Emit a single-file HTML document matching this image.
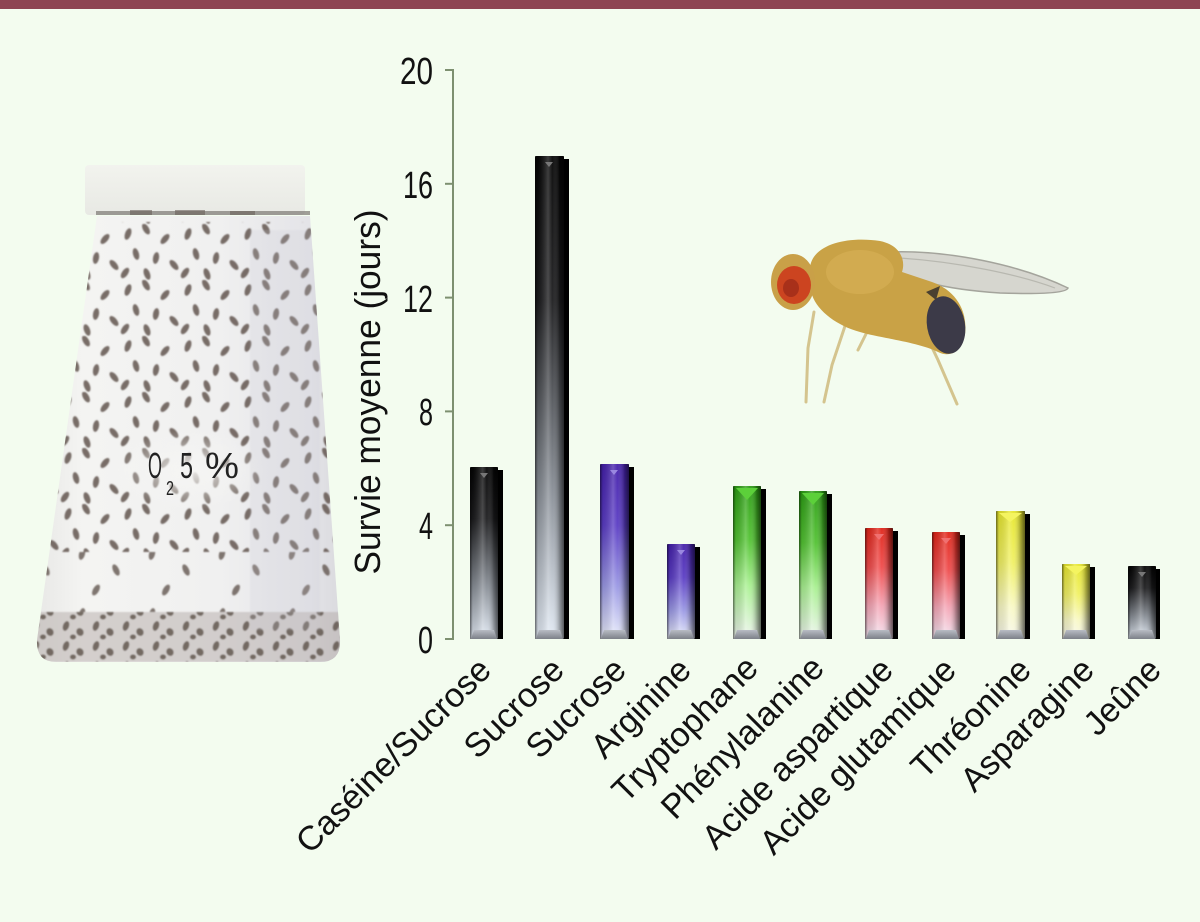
<!DOCTYPE html>
<html><head><meta charset="utf-8">
<style>
html,body{margin:0;padding:0;background:#f3fcef;}
svg{display:block;}
</style></head>
<body>
<svg width="1200" height="922" viewBox="0 0 1200 922" xmlns="http://www.w3.org/2000/svg">
<defs>
  <linearGradient id="gBlack" x1="0" y1="0" x2="0" y2="1">
    <stop offset="0" stop-color="#050505"/>
    <stop offset="0.3" stop-color="#1c1c1e"/>
    <stop offset="0.7" stop-color="#8a9098"/>
    <stop offset="1" stop-color="#e2eaf4"/>
  </linearGradient>
  <linearGradient id="gBlue" x1="0" y1="0" x2="0" y2="1">
    <stop offset="0" stop-color="#4420aa"/>
    <stop offset="0.35" stop-color="#5a3cc4"/>
    <stop offset="0.7" stop-color="#9a98e4"/>
    <stop offset="1" stop-color="#e8ecfa"/>
  </linearGradient>
  <linearGradient id="gGreen" x1="0" y1="0" x2="0" y2="1">
    <stop offset="0" stop-color="#2c9c14"/>
    <stop offset="0.35" stop-color="#52c232"/>
    <stop offset="0.65" stop-color="#a8f090"/>
    <stop offset="1" stop-color="#eef4ee"/>
  </linearGradient>
  <linearGradient id="gRed" x1="0" y1="0" x2="0" y2="1">
    <stop offset="0" stop-color="#e02418"/>
    <stop offset="0.35" stop-color="#ef4a4a"/>
    <stop offset="0.7" stop-color="#f4a4b4"/>
    <stop offset="1" stop-color="#f2e4f0"/>
  </linearGradient>
  <linearGradient id="gYellow" x1="0" y1="0" x2="0" y2="1">
    <stop offset="0" stop-color="#e6e62c"/>
    <stop offset="0.4" stop-color="#f0f062"/>
    <stop offset="0.75" stop-color="#f8f8c4"/>
    <stop offset="1" stop-color="#f6f6ea"/>
  </linearGradient>
  <linearGradient id="hShade" x1="0" y1="0" x2="1" y2="0">
    <stop offset="0" stop-color="#000" stop-opacity="0.55"/>
    <stop offset="0.1" stop-color="#000" stop-opacity="0.1"/>
    <stop offset="0.45" stop-color="#fff" stop-opacity="0.22"/>
    <stop offset="0.6" stop-color="#fff" stop-opacity="0.05"/>
    <stop offset="0.85" stop-color="#000" stop-opacity="0.3"/>
    <stop offset="1" stop-color="#000" stop-opacity="0.6"/>
  </linearGradient>
  <linearGradient id="bevel" x1="0" y1="0" x2="0" y2="1">
    <stop offset="0" stop-color="#b8bcc4"/>
    <stop offset="1" stop-color="#7c8088"/>
  </linearGradient>
  <linearGradient id="vialShade" x1="0" y1="0" x2="1" y2="0">
    <stop offset="0" stop-color="#e8e8e6"/>
    <stop offset="0.15" stop-color="#f4f4f2"/>
    <stop offset="0.6" stop-color="#f0f0f0"/>
    <stop offset="0.9" stop-color="#e4e4e8"/>
    <stop offset="1" stop-color="#dadade"/>
  </linearGradient>
  <linearGradient id="capShade" x1="0" y1="0" x2="0" y2="1">
    <stop offset="0" stop-color="#f2f3ee"/>
    <stop offset="1" stop-color="#e8e9e4"/>
  </linearGradient>
  <radialGradient id="whiteSpot" cx="0.5" cy="0.5" r="0.5">
    <stop offset="0" stop-color="#f6f6f4" stop-opacity="0.9"/>
    <stop offset="1" stop-color="#f6f6f4" stop-opacity="0"/>
  </radialGradient>
  <pattern id="flies" width="60" height="56" patternUnits="userSpaceOnUse">
    <g fill="#62564f" opacity="0.85">
      <ellipse cx="8" cy="10" rx="3" ry="6" transform="rotate(20 8 10)"/>
      <ellipse cx="26" cy="5" rx="3" ry="6" transform="rotate(-30 26 5)"/>
      <ellipse cx="45" cy="15" rx="3" ry="6" transform="rotate(40 45 15)"/>
      <ellipse cx="16" cy="30" rx="3" ry="6" transform="rotate(-15 16 30)"/>
      <ellipse cx="36" cy="34" rx="3" ry="6" transform="rotate(10 36 34)"/>
      <ellipse cx="54" cy="41" rx="3" ry="6" transform="rotate(-40 54 41)"/>
      <ellipse cx="5" cy="49" rx="3" ry="6" transform="rotate(35 5 49)"/>
      <ellipse cx="27" cy="50" rx="3" ry="6" transform="rotate(-20 27 50)"/>
    </g>
  </pattern>
  <pattern id="fliesSparse" width="70" height="60" patternUnits="userSpaceOnUse">
    <g fill="#62564f" opacity="0.8">
      <ellipse cx="12" cy="14" rx="3" ry="6" transform="rotate(15 12 14)"/>
      <ellipse cx="46" cy="30" rx="3" ry="6" transform="rotate(-25 46 30)"/>
      <ellipse cx="26" cy="50" rx="3" ry="6" transform="rotate(30 26 50)"/>
    </g>
  </pattern>
  <pattern id="fliesDense" width="30" height="20" patternUnits="userSpaceOnUse">
    <g fill="#54483f" opacity="0.75">
      <ellipse cx="6" cy="6" rx="3" ry="5" transform="rotate(20 6 6)"/>
      <ellipse cx="20" cy="12" rx="3.5" ry="4" transform="rotate(-30 20 12)"/>
      <ellipse cx="13" cy="17" rx="3" ry="2.5"/>
    </g>
  </pattern>
  <clipPath id="vialClip">
    <path d="M97 216 L310 216 L340 640 Q341 662 320 662 L56 662 Q36 662 37 640 Z"/>
  </clipPath>
  <filter id="soft" x="-5%" y="-5%" width="110%" height="110%">
    <feGaussianBlur stdDeviation="0.8"/>
  </filter>
</defs>

<!-- background -->
<rect x="0" y="0" width="1200" height="922" fill="#f3fcef"/>
<rect x="0" y="0" width="1200" height="9" fill="#8e4452"/>

<!-- vial photo -->
<g>
  <rect x="85" y="165" width="220" height="50" rx="4" fill="url(#capShade)"/>
  <path d="M97 216 L310 216 L340 640 Q341 662 320 662 L56 662 Q36 662 37 640 Z" fill="url(#vialShade)"/>
  <g clip-path="url(#vialClip)" filter="url(#soft)">
    <rect x="30" y="222" width="320" height="330" fill="url(#flies)"/>
    <rect x="30" y="552" width="320" height="60" fill="url(#fliesSparse)"/>
    <ellipse cx="190" cy="470" rx="75" ry="40" fill="url(#whiteSpot)"/>
    <rect x="30" y="612" width="320" height="50" fill="#b4aca8" opacity="0.5"/>
    <rect x="30" y="612" width="320" height="50" fill="url(#fliesDense)"/>
    <rect x="250" y="230" width="70" height="400" fill="#c8c8d0" opacity="0.2"/>
  </g>
  <rect x="96" y="211" width="214" height="4" fill="#7c7874" opacity="0.7"/>
  <g fill="#6a605a" opacity="0.6">
    <rect x="130" y="210" width="22" height="5"/>
    <rect x="175" y="210" width="30" height="5"/>
    <rect x="230" y="211" width="25" height="4"/>
  </g>
  <g font-family="'Liberation Sans', sans-serif" fill="#222">
    <text x="148" y="478" font-size="36" textLength="14" lengthAdjust="spacingAndGlyphs">O</text>
    <text x="166" y="495" font-size="20" textLength="8" lengthAdjust="spacingAndGlyphs">2</text>
    <text x="180" y="478" font-size="36" textLength="13" lengthAdjust="spacingAndGlyphs">5</text>
    <text x="205" y="478" font-size="36" textLength="34" lengthAdjust="spacingAndGlyphs">%</text>
  </g>
</g>

<!-- fly -->
<g>
  <path d="M890 252 C950 250 1020 265 1068 288 C1066 294 1030 294 1000 293 C970 291 945 287 930 283 C905 277 890 270 884 262 Z" fill="#d6d6cf" stroke="#a4a49c" stroke-width="1.5"/>
  <path d="M900 258 C960 262 1020 275 1055 288" stroke="#b8b8b0" stroke-width="1.2" fill="none"/>
  <g stroke="#d4c48e" stroke-width="3" fill="none" stroke-linecap="round">
    <path d="M814 312 L808 348 L806 402"/>
    <path d="M845 326 L832 365 L824 402"/>
    <path d="M868 330 L858 350"/>
    <path d="M918 318 L938 360 L957 404"/>
  </g>
  <path d="M810 268 C812 244 848 236 880 241 C900 245 906 260 902 272 L932 282 C955 290 968 310 965 334 C962 352 950 358 938 352 C918 342 880 338 860 332 C838 326 818 312 812 295 Z" fill="#c9a246"/>
  <ellipse cx="860" cy="272" rx="34" ry="22" fill="#d4ae52" opacity="0.8"/>
  <ellipse cx="946" cy="325" rx="19" ry="29" transform="rotate(-10 946 325)" fill="#3c3a48"/>
  <path d="M926 292 L940 286 L936 300 Z" fill="#4a4030"/>
  <ellipse cx="793" cy="282" rx="22" ry="28" fill="#c9a048"/>
  <ellipse cx="794" cy="285" rx="17" ry="19" fill="#cc4420"/>
  <ellipse cx="791" cy="288" rx="8" ry="9" fill="#a8301a"/>
</g>

<!-- axis -->
<g stroke="#7d9070" stroke-width="2" fill="none">
  <line x1="453" y1="69" x2="453" y2="640"/>
  <line x1="445" y1="70" x2="453" y2="70"/>
  <line x1="445" y1="183.8" x2="453" y2="183.8"/>
  <line x1="445" y1="297.6" x2="453" y2="297.6"/>
  <line x1="445" y1="411.4" x2="453" y2="411.4"/>
  <line x1="445" y1="525.2" x2="453" y2="525.2"/>
  <line x1="445" y1="639" x2="453" y2="639"/>
</g>
<g font-family="'Liberation Sans', sans-serif" font-size="38" fill="#111" text-anchor="end">
  <text x="433" y="84" textLength="33" lengthAdjust="spacingAndGlyphs">20</text>
  <text x="433" y="198" textLength="30" lengthAdjust="spacingAndGlyphs">16</text>
  <text x="433" y="312" textLength="30" lengthAdjust="spacingAndGlyphs">12</text>
  <text x="433" y="425" textLength="14" lengthAdjust="spacingAndGlyphs">8</text>
  <text x="433" y="539" textLength="14" lengthAdjust="spacingAndGlyphs">4</text>
  <text x="433" y="653" textLength="15" lengthAdjust="spacingAndGlyphs">0</text>
</g>
<text transform="translate(380 392) rotate(-90)" font-family="'Liberation Sans', sans-serif" font-size="36" fill="#111" text-anchor="middle" textLength="365" lengthAdjust="spacingAndGlyphs">Survie moyenne (jours)</text>

<!-- bars -->
<g>
  <g>
    <rect x="474" y="470" width="29" height="169" fill="#000"/>
    <rect x="470" y="467" width="28" height="172" rx="1.5" fill="url(#gBlack)"/>
    <rect x="470" y="467" width="28" height="172" fill="url(#hShade)"/>
    <polygon points="471,639 497,639 494,630 474,630" fill="url(#bevel)"/>
    <polygon points="480,473 488,473 484,478" fill="#777"/>
  </g>
  <g>
    <rect x="539" y="159" width="30" height="480" fill="#000"/>
    <rect x="535" y="156" width="29" height="483" rx="1.5" fill="url(#gBlack)"/>
    <rect x="535" y="156" width="29" height="483" fill="url(#hShade)"/>
    <polygon points="536,639 563,639 560,630 539,630" fill="url(#bevel)"/>
    <polygon points="545,162 553,162 549,167" fill="#777"/>
  </g>
  <g>
    <rect x="604" y="467" width="30" height="172" fill="#000"/>
    <rect x="600" y="464" width="29" height="175" rx="1.5" fill="url(#gBlue)"/>
    <rect x="600" y="464" width="29" height="175" fill="url(#hShade)"/>
    <polygon points="601,639 628,639 625,630 604,630" fill="url(#bevel)"/>
    <polygon points="610,470 618,470 614,475" fill="#9a88e0"/>
  </g>
  <g>
    <rect x="671" y="547" width="29" height="92" fill="#000"/>
    <rect x="667" y="544" width="28" height="95" rx="1.5" fill="url(#gBlue)"/>
    <rect x="667" y="544" width="28" height="95" fill="url(#hShade)"/>
    <polygon points="668,639 694,639 691,630 671,630" fill="url(#bevel)"/>
    <polygon points="677,550 685,550 681,555" fill="#9a88e0"/>
  </g>
  <g>
    <rect x="737" y="489" width="29" height="150" fill="#000"/>
    <rect x="733" y="486" width="28" height="153" rx="1.5" fill="url(#gGreen)"/>
    <rect x="733" y="486" width="28" height="153" fill="url(#hShade)"/>
    <polygon points="734,639 760,639 757,630 737,630" fill="url(#bevel)"/>
    <polygon points="736,488 758,488 747,500" fill="#5cd03a"/>
  </g>
  <g>
    <rect x="803" y="494" width="29" height="145" fill="#000"/>
    <rect x="799" y="491" width="28" height="148" rx="1.5" fill="url(#gGreen)"/>
    <rect x="799" y="491" width="28" height="148" fill="url(#hShade)"/>
    <polygon points="800,639 826,639 823,630 803,630" fill="url(#bevel)"/>
    <polygon points="802,493 824,493 813,505" fill="#5cd03a"/>
  </g>
  <g>
    <rect x="869" y="531" width="29" height="108" fill="#000"/>
    <rect x="865" y="528" width="28" height="111" rx="1.5" fill="url(#gRed)"/>
    <rect x="865" y="528" width="28" height="111" fill="url(#hShade)"/>
    <polygon points="866,639 892,639 889,630 869,630" fill="url(#bevel)"/>
    <polygon points="874,534 884,534 879,540" fill="#f07070"/>
  </g>
  <g>
    <rect x="936" y="535" width="29" height="104" fill="#000"/>
    <rect x="932" y="532" width="28" height="107" rx="1.5" fill="url(#gRed)"/>
    <rect x="932" y="532" width="28" height="107" fill="url(#hShade)"/>
    <polygon points="933,639 959,639 956,630 936,630" fill="url(#bevel)"/>
    <polygon points="941,538 951,538 946,544" fill="#f07070"/>
  </g>
  <g>
    <rect x="1000" y="514" width="30" height="125" fill="#000"/>
    <rect x="996" y="511" width="29" height="128" rx="1.5" fill="url(#gYellow)"/>
    <rect x="996" y="511" width="29" height="128" fill="url(#hShade)"/>
    <polygon points="997,639 1024,639 1021,630 1000,630" fill="url(#bevel)"/>
    <polygon points="999,513 1022,513 1010,522" fill="#f4f460"/>
  </g>
  <g>
    <rect x="1066" y="567" width="29" height="72" fill="#000"/>
    <rect x="1062" y="564" width="28" height="75" rx="1.5" fill="url(#gYellow)"/>
    <rect x="1062" y="564" width="28" height="75" fill="url(#hShade)"/>
    <polygon points="1063,639 1089,639 1086,630 1066,630" fill="url(#bevel)"/>
    <polygon points="1065,566 1087,566 1076,575" fill="#f4f460"/>
  </g>
  <g>
    <rect x="1132" y="569" width="28" height="70" fill="#000"/>
    <rect x="1128" y="566" width="28" height="73" rx="1.5" fill="url(#gBlack)"/>
    <rect x="1128" y="566" width="28" height="73" fill="url(#hShade)"/>
    <polygon points="1129,639 1155,639 1152,630 1132,630" fill="url(#bevel)"/>
    <polygon points="1138,572 1146,572 1142,577" fill="#777"/>
  </g>
</g>

<!-- category labels -->
<g font-family="'Liberation Sans', sans-serif" font-size="34" fill="#111" text-anchor="end">
  <text transform="translate(493 672) rotate(-45)">Caséine/Sucrose</text>
  <text transform="translate(566 672) rotate(-45)">Sucrose</text>
  <text transform="translate(628 672) rotate(-45)">Sucrose</text>
  <text transform="translate(693 672) rotate(-45)">Arginine</text>
  <text transform="translate(760 670) rotate(-45)">Tryptophane</text>
  <text transform="translate(826 670) rotate(-45)">Phénylalanine</text>
  <text transform="translate(895 672) rotate(-45)">Acide aspartique</text>
  <text transform="translate(958 672) rotate(-45)">Acide glutamique</text>
  <text transform="translate(1033 672) rotate(-45)">Thréonine</text>
  <text transform="translate(1096 672) rotate(-45)">Asparagine</text>
  <text transform="translate(1163 672) rotate(-45)">Jeûne</text>
</g>
</svg>
</body></html>
